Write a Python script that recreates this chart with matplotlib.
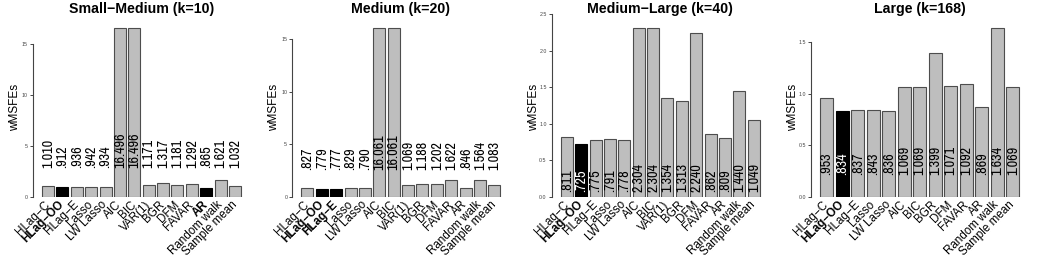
import matplotlib.pyplot as plt
import numpy as np

plt.rcParams['font.family'] = ['Liberation Sans', 'DejaVu Sans']

# ---- data ----
titles = ["Small\u2212Medium (k=10)", "Medium (k=20)", "Medium\u2212Large (k=40)", "Large (k=168)"]

methods14 = ["HLag\u2212C", "HLag\u2212OO", "HLag\u2212E", "Lasso", "LW Lasso", "AIC", "BIC",
             "VAR(1)", "BGR", "DFM", "FAVAR", "AR", "Random walk", "Sample mean"]
methods13 = ["HLag\u2212C", "HLag\u2212OO", "HLag\u2212E", "Lasso", "LW Lasso", "AIC", "BIC",
             "BGR", "DFM", "FAVAR", "AR", "Random walk", "Sample mean"]

wmsfe_small_medium = [1.010, .912, .936, .942, .934, 16.496, 16.496, 1.171, 1.317, 1.181, 1.292, .865, 1.621, 1.032]
wmsfe_medium = [.827, .779, .777, .829, .790, 16.061, 16.061, 1.069, 1.188, 1.202, 1.622, .846, 1.564, 1.083]
wmsfe_medium_large = [.811, .725, .775, .791, .778, 2.304, 2.304, 1.354, 1.313, 2.240, .862, .809, 1.440, 1.049]
wmsfe_large = [.953, .834, .837, .843, .836, 1.069, 1.069, 1.399, 1.071, 1.092, .869, 1.634, 1.069]

# best methods (black bar, bold label)
best_small_medium = ["HLag\u2212OO", "AR"]
best_medium = ["HLag\u2212OO", "HLag\u2212E"]
best_medium_large = ["HLag\u2212OO"]
best_large = ["HLag\u2212OO"]

yticks_list = [[0, 5, 10, 15], [0, 5, 10, 15], [0, 0.5, 1.0, 1.5, 2.0, 2.5], [0, 0.5, 1.0, 1.5]]
ytick_fmt = ["{:g}", "{:g}", "{:.1f}", "{:.1f}"]

panels = [
    (methods14, wmsfe_small_medium, best_small_medium),
    (methods14, wmsfe_medium, best_medium),
    (methods14, wmsfe_medium_large, best_medium_large),
    (methods13, wmsfe_large, best_large),
]

# where the value labels start (data units)
label_y = [2.8, 2.55, 0.07, 0.21]

W, H = 1038, 260
fig = plt.figure(figsize=(W / 100, H / 100), dpi=100)

GREY = "#bebebe"
EDGE = "#4d4d4d"
NARROW = ["Archivo Narrow", "Liberation Sans", "DejaVu Sans"]

ax_left0 = 33
ax_step = 259.4
ax_w = 217
ax_bot = 196.7      # px from top
ax_top = 10.0
bar_top = 28.3      # px where tallest bar ends

def fmt(v):
    s = "{:.3f}".format(v)
    return s[1:] if s.startswith("0") else s

for i, (names, vals, best) in enumerate(panels):
    left = ax_left0 + ax_step * i
    ax = fig.add_axes([left / W, (H - ax_bot) / H, ax_w / W, (ax_bot - ax_top) / H])
    n = len(vals)
    x = 0.7 + 1.2 * np.arange(n)
    colors = ["black" if m in best else GREY for m in names]
    edges = ["black" if m in best else EDGE for m in names]
    ax.bar(x, vals, width=1.0, color=colors, edgecolor=edges, linewidth=0.8)

    span = 1.2 * n - 0.2
    pad = 0.045 * span
    ax.set_xlim(0.2 - pad, 1.2 * n + pad)
    vmax = max(vals)
    ax.set_ylim(0, vmax * (ax_bot - ax_top) / (ax_bot - bar_top))

    for xi, v, m in zip(x, vals, names):
        tc = "white" if (m in best and i >= 2) else "black"
        ax.text(xi, label_y[i], fmt(v), rotation=90, ha="center", va="bottom",
                fontsize=10.2, color=tc, family=NARROW)

    for s in ["top", "right", "bottom"]:
        ax.spines[s].set_visible(False)
    ax.spines["left"].set_color("#444444")
    ax.spines["left"].set_linewidth(0.8)
    yt = yticks_list[i]
    ax.spines["left"].set_bounds(yt[0], yt[-1])
    ax.set_yticks(yt)
    ax.set_yticklabels([ytick_fmt[i].format(t) for t in yt])
    ax.tick_params(axis="y", length=2.2, width=0.7, color="#444444", labelsize=3.8,
                   pad=1.5, labelcolor="#444444")

    ax.set_xticks(x)
    ax.set_xticklabels(names, rotation=45, ha="right", va="center",
                       rotation_mode="anchor", fontsize=8.4)
    ax.tick_params(axis="x", length=0, pad=4.5)
    for lab, m in zip(ax.get_xticklabels(), names):
        if m in best:
            lab.set_fontweight("bold")

    # title centred on the bars
    cx = (left + ax_w / 2) / W
    fig.text(cx, 1 - 8.5 / H, titles[i], ha="center", va="center",
             fontsize=10.2, fontweight="bold")
    fig.text((left - 18) / W, 1 - 107 / H, "wMSFEs", rotation=90,
             ha="center", va="center", fontsize=8.5)

fig.savefig("out.png", dpi=100)
